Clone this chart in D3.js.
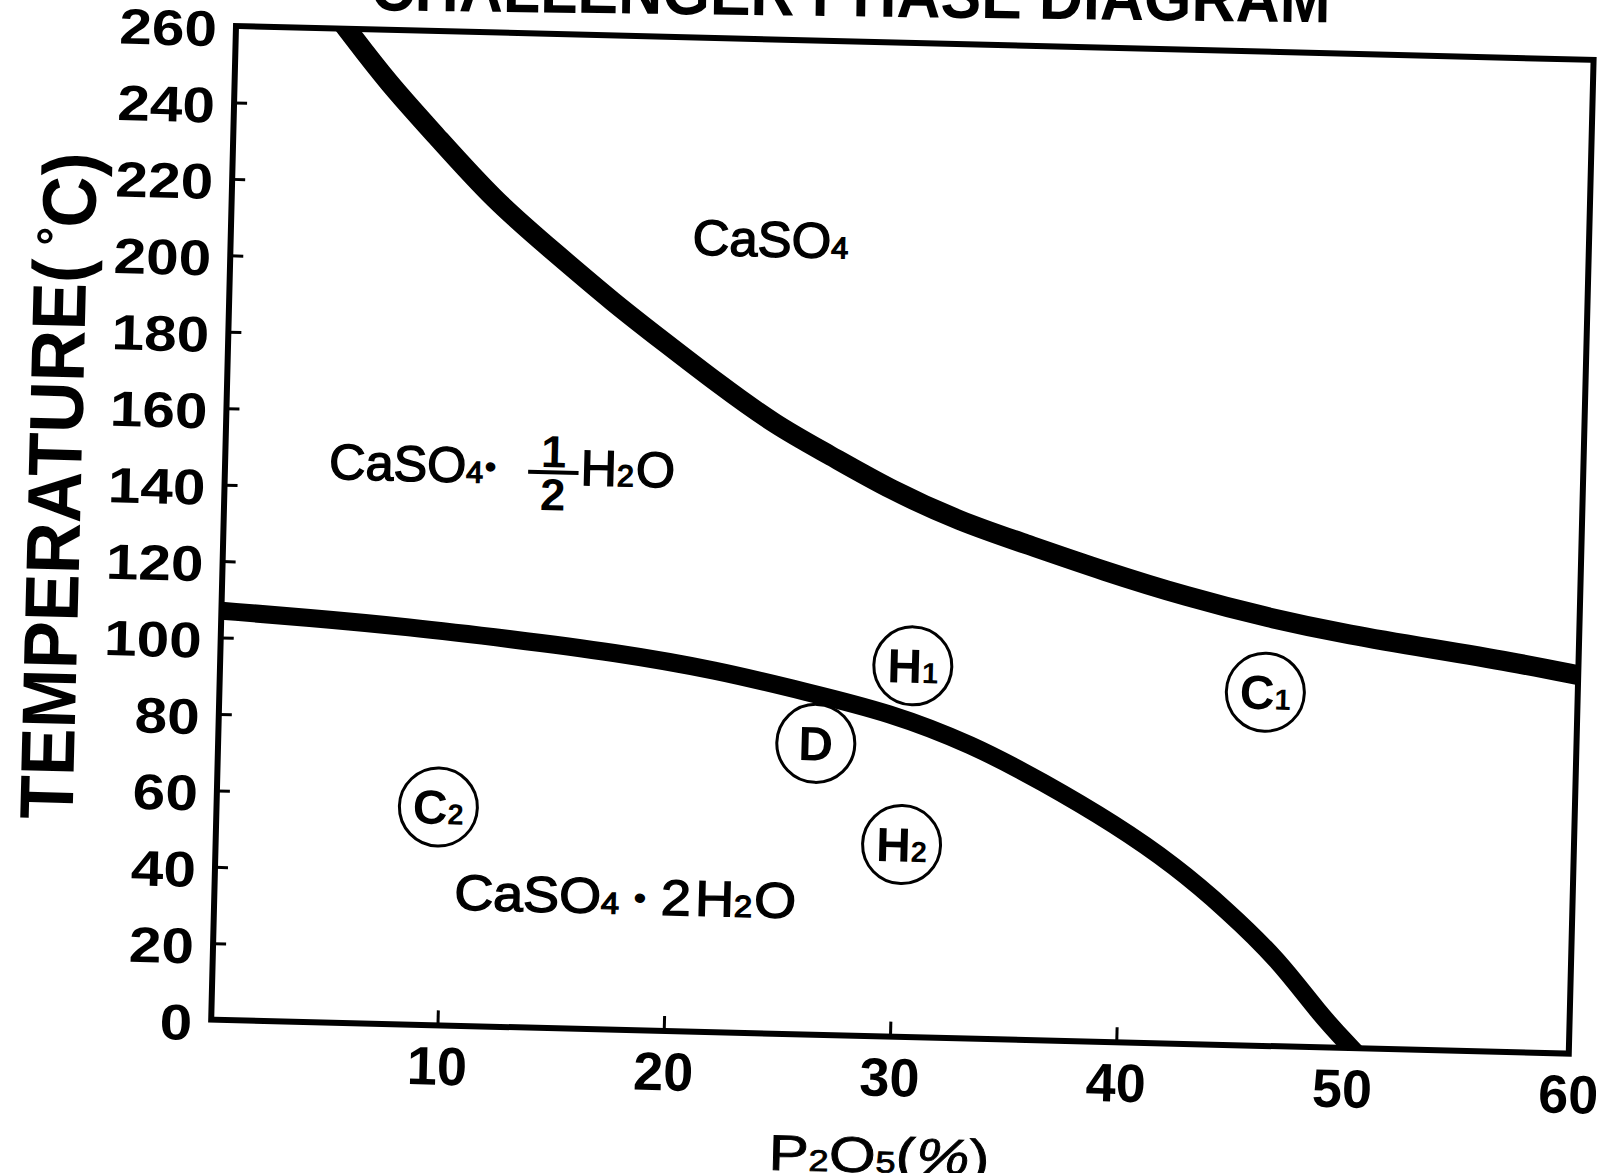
<!DOCTYPE html>
<html>
<head>
<meta charset="utf-8">
<script src="https://cdn.jsdelivr.net/npm/d3@7"></script>
<style>
body { margin: 0; background: #fff; }
text { font-family: "Liberation Sans", Arial, sans-serif; fill: #000; }
</style>
</head>
<body>
<div id="chart"></div>
<script>
// title, only the lower part survives at the top edge of the scan
const titleText = "CHALLENGER PHASE DIAGRAM";

const xTicks = [10, 20, 30, 40, 50, 60];
const yTicks = [0, 20, 40, 60, 80, 100, 120, 140, 160, 180, 200, 220, 240, 260];

// CaSO4 / hemihydrate boundary (P2O5 %, deg C)
const upperX = [4.9, 6.8, 8.9, 11.6, 14.3, 17.0, 19.3, 21.6, 24.3, 26.6, 29.4, 32.6, 35.3, 39.0, 42.6, 46.2, 49.9, 53.5, 57.1, 60.0];
const upperT = [260, 246, 233, 216, 203, 190, 180, 170, 159, 152, 143, 135, 130, 123, 117, 112, 108, 105, 102, 99];

// hemihydrate / dihydrate boundary
const lowerX = [0, 3.8, 8.3, 12.8, 17.4, 21.9, 26.0, 29.6, 33.3, 36.5, 39.7, 42.4, 44.7, 47.1, 48.9, 50.4];
const lowerT = [107, 105.8, 104, 101.5, 98.7, 94.8, 89.5, 84.8, 77.0, 67.5, 57.0, 46.5, 35.5, 22.5, 9.0, 0];

// process zones (circled)
const zoneLetter = ["H", "C", "D", "C", "H"];
const zoneSub = ["1", "1", "", "2", "2"];
const zoneX = [30.6, 46.2, 26.4, 9.8, 30.3];
const zoneT = [97.1, 92.5, 76.2, 57.1, 50.3];

// phase names: left end of baseline
const phaseX = [20.4, 4.6, 10.6];
const phaseT = [203.2, 142.2, 30.4];

const W = 1603, H = 1173;
const plotW = 1358, plotH = 994;
const tilt = 1.43; // the page was scanned a bit crooked

const svg = d3.select("#chart").append("svg")
    .attr("width", W).attr("height", H)
    .style("background", "#fff");

const g = svg.append("g").attr("transform", `translate(236,26) rotate(${tilt})`);

const x = d3.scaleLinear().domain([0, 60]).range([0, plotW]);
const y = d3.scaleLinear().domain([0, 260]).range([plotH, 0]);

g.append("clipPath").attr("id", "plotclip")
    .append("rect").attr("width", plotW).attr("height", plotH);

// axes
const yAxis = g.append("g")
    .call(d3.axisLeft(y).tickValues(yTicks).tickSize(-13).tickPadding(19));
yAxis.select(".domain").remove();
yAxis.selectAll(".tick line").attr("stroke", "#000").attr("stroke-width", 3)
    .filter(d => d === 0 || d === 260).remove();
yAxis.selectAll("text")
    .attr("dy", "0.4em")
    .style("font-family", '"Liberation Sans", Arial, sans-serif')
    .style("font-size", "50px").style("font-weight", "bold")
    .each(function () {
        // the scanned digits are wider than Liberation's
        const w = this.getComputedTextLength();
        d3.select(this).attr("textLength", w * 1.17).attr("lengthAdjust", "spacingAndGlyphs");
    });

const xAxis = g.append("g").attr("transform", `translate(0,${plotH})`)
    .call(d3.axisBottom(x).tickValues(xTicks).tickSize(-15).tickPadding(21));
xAxis.select(".domain").remove();
xAxis.selectAll(".tick line").attr("stroke", "#000").attr("stroke-width", 3)
    .filter(d => d === 60).remove();
xAxis.selectAll("text")
    .style("font-family", '"Liberation Sans", Arial, sans-serif')
    .style("font-size", "54px").style("font-weight", "bold");

g.append("rect")
    .attr("width", plotW).attr("height", plotH)
    .attr("fill", "none").attr("stroke", "#000").attr("stroke-width", 6);

// boundaries
const line = d3.line()
    .x(d => x(d[0])).y(d => y(d[1]))
    .curve(d3.curveBasis);

const curves = g.append("g").attr("clip-path", "url(#plotclip)");
curves.append("path")
    .datum(d3.zip(upperX, upperT))
    .attr("d", line)
    .attr("fill", "none").attr("stroke", "#000")
    .attr("stroke-width", 20).attr("stroke-linecap", "square");
curves.append("path")
    .datum(d3.zip(lowerX, lowerT))
    .attr("d", line)
    .attr("fill", "none").attr("stroke", "#000")
    .attr("stroke-width", 18).attr("stroke-linecap", "square");

// circled zones
const zones = g.append("g").selectAll("g")
    .data(d3.range(zoneX.length))
    .join("g")
    .attr("transform", i => `translate(${x(zoneX[i])},${y(zoneT[i])})`);
zones.append("circle")
    .attr("r", 39).attr("fill", "none")
    .attr("stroke", "#000").attr("stroke-width", 3);
const zt = zones.append("text")
    .attr("text-anchor", "middle").attr("y", 17)
    .style("font-size", "48px").style("font-weight", "bold");
zt.append("tspan").text(i => zoneLetter[i]);
zt.append("tspan").style("font-size", "29px").text(i => zoneSub[i]);

// chemical formula made from pieces laid out left to right, then fitted to a width
function formula(sel, x0, y0, parts, width) {
    const f = sel.append("g");
    let cx = x0;
    parts.forEach(p => {
        if (p.frac) {
            const w = 50;
            f.append("text").attr("x", cx + w / 2).attr("y", y0 - 17)
                .attr("text-anchor", "middle")
                .style("font-size", "45px").style("font-weight", "bold").text(p.frac[0]);
            f.append("line")
                .attr("x1", cx).attr("x2", cx + w)
                .attr("y1", y0 - 12).attr("y2", y0 - 12)
                .attr("stroke", "#000").attr("stroke-width", 4);
            f.append("text").attr("x", cx + w / 2).attr("y", y0 + 26)
                .attr("text-anchor", "middle")
                .style("font-size", "45px").style("font-weight", "bold").text(p.frac[1]);
            cx += w + 2;
        } else {
            const t = f.append("text")
                .attr("x", cx).attr("y", y0 + (p.dy || 0))
                .style("font-size", (p.size || 50) + "px")
                .attr("stroke", "#000").attr("stroke-width", 1.4)
                .text(p.t);
            cx += t.node().getComputedTextLength() + (p.gap || 0);
        }
    });
    const k = width / (cx - x0);
    f.attr("transform", `translate(${x0},0) scale(${k},1) translate(${-x0},0)`);
}

const phaseParts = [
    [{ t: "CaSO" }, { t: "4", size: 30 }],
    [{ t: "CaSO" }, { t: "4", size: 30, gap: 2 }, { t: "•", size: 30, dy: -6, gap: 32 },
     { frac: ["1", "2"] }, { t: "H" }, { t: "2", size: 30, gap: 2 }, { t: "O" }],
    [{ t: "CaSO" }, { t: "4", size: 30, gap: 14 }, { t: "•", size: 30, dy: -6, gap: 14 },
     { t: "2", gap: 4 }, { t: "H" }, { t: "2", size: 30, gap: 2 }, { t: "O" }]
];
const phaseWidth = [156, 346, 342];
const labels = g.append("g");
phaseParts.forEach((parts, i) => formula(labels, x(phaseX[i]), y(phaseT[i]), parts, phaseWidth[i]));

// axis titles
const yTitle = g.append("text")
    .attr("transform", "translate(-171,464) rotate(-90)")
    .attr("text-anchor", "middle").attr("dy", "0.36em")
    .attr("textLength", 667).attr("lengthAdjust", "spacingAndGlyphs")
    .style("font-size", "76px").style("font-weight", "bold");
yTitle.append("tspan").text("TEMPERATURE(");
yTitle.append("tspan").style("font-size", "50px").attr("dy", "-0.3em").text(" °");
yTitle.append("tspan").attr("dy", "0.3em").text("C)");

const xTitle = g.append("text")
    .attr("x", 671).attr("y", 1130)
    .attr("text-anchor", "middle")
    .attr("textLength", 221).attr("lengthAdjust", "spacingAndGlyphs")
    .attr("stroke", "#000").attr("stroke-width", 0.8)
    .style("font-size", "50px");
xTitle.append("tspan").text("P");
xTitle.append("tspan").style("font-size", "30px").text("2");
xTitle.append("tspan").text("O");
xTitle.append("tspan").style("font-size", "30px").text("5");
xTitle.append("tspan").text("(");
xTitle.append("tspan").style("font-style", "italic").text("%");
xTitle.append("tspan").text(")");

// title, cut by the top of the page
g.append("text")
    .attr("transform", "translate(614,-25) rotate(-0.7)")
    .attr("text-anchor", "middle")
    .attr("textLength", 960).attr("lengthAdjust", "spacingAndGlyphs")
    .style("font-size", "66px").style("font-weight", "bold")
    .text(titleText);
</script>
</body>
</html>
